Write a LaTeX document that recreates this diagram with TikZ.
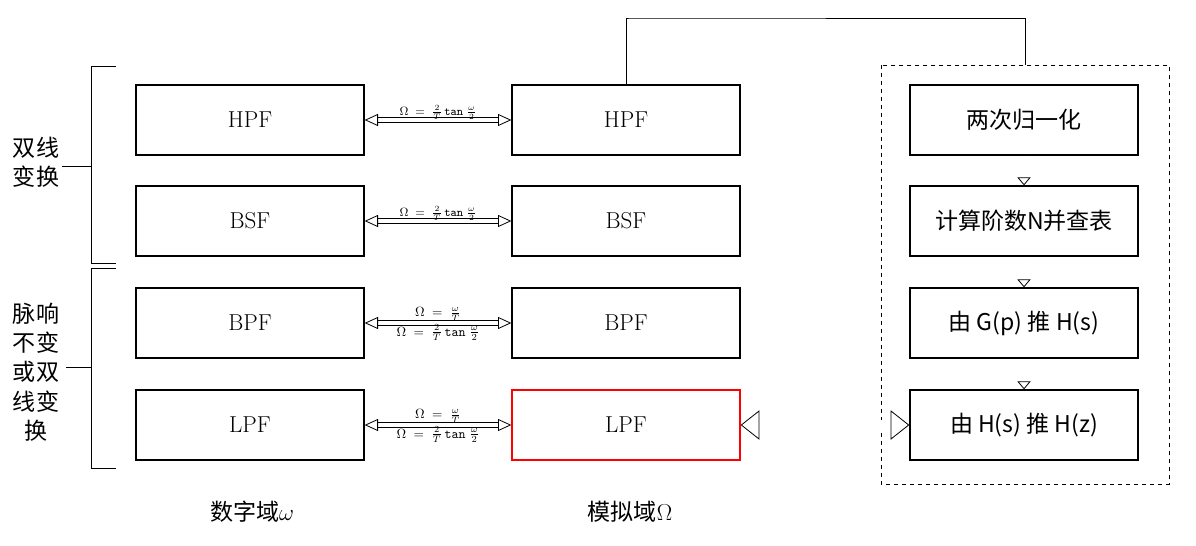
\documentclass[tikz,border=0pt]{standalone}
\usepackage{fontspec}
\newfontfamily\cjk{Noto Sans CJK SC}
\usetikzlibrary{arrows.meta,positioning}
\tikzset{
  blk/.style={draw,line width=1pt,minimum width=171pt,minimum height=52.5pt,inner sep=0pt,font=\LARGE},
  hollow/.style={double,double distance=3pt,line width=0.6pt,{Triangle[open,length=10pt,width=9pt]}-{Triangle[open,length=10pt,width=9pt]}},
  down/.style={double,double distance=4pt,line width=0.6pt,-{Triangle[open,length=6pt,width=10pt]}},
  fml/.style={font=\normalsize,inner sep=1pt}
}
\newcommand{\bilin}{$\Omega\;=\;\frac{2}{T}\,\texttt{tan}\;\frac{\omega}{2}$}
\newcommand{\impl}{$\Omega\;=\;\frac{\omega}{T}$}
\begin{document}
\begin{tikzpicture}[x=0.75pt,y=-0.75pt]
  \useasboundingbox (0,0) rectangle (1196,546);
  % digital column
  \node[blk] (dh) at (250,120) {HPF};
  \node[blk] (ds) at (250,221) {BSF};
  \node[blk] (db) at (250,323) {BPF};
  \node[blk] (dl) at (250,425) {LPF};
  % analog column
  \node[blk] (ah) at (626,120) {HPF};
  \node[blk] (as) at (626,221) {BSF};
  \node[blk] (ab) at (626,323) {BPF};
  \node[blk,draw=red] (al) at (626,425) {LPF};
  % design steps
  \node[blk] (s1) at (1024,120) {\cjk 两次归一化};
  \node[blk] (s2) at (1024,221) {\cjk 计算阶数N并查表};
  \node[blk] (s3) at (1024,323) {\cjk 由 G(p) 推 H(s)};
  \node[blk] (s4) at (1024,425) {\cjk 由 H(s) 推 H(z)};
  \draw[dashed] (881,65) rectangle (1169,484);
  \coordinate (top) at (1025,65);

  \draw[hollow] (dh) -- node[fml,above=-1pt,font=\small] {\bilin} (ah);
  \draw[hollow] (ds) -- node[fml,above=-1pt,font=\small] {\bilin} (as);
  \draw[hollow] (db) -- node[fml,above] {\impl} node[fml,below] {\bilin} (ab);
  \draw[hollow] (dl) -- node[fml,above] {\impl} node[fml,below] {\bilin} (al);
  \draw[double,double distance=7pt,line width=0.6pt,{Triangle[open,length=14pt,width=22pt]}-{Triangle[open,length=14pt,width=22pt]}] (al) -- (s4);
  \draw[down] (s1) -- (s2);
  \draw[down] (s2) -- (s3);
  \draw[down] (s3) -- (s4);
  \draw (ah.north) |- (630,18) -| (top);

  % brackets
  \draw (116,66) -- (91,66) -- (91,263) -- (116,263);
  \draw (91,166) -- (62,166);
  \draw (116,268) -- (91,268) -- (91,468) -- (116,468);
  \draw (91,367) -- (66,367);
  \node[align=center,font=\cjk\LARGE,inner sep=0pt] (g1) at (36,162) {双线\\变换};
  \node[align=center,font=\cjk\LARGE,inner sep=0pt] (g2) at (36,372) {脉响\\不变\\或双\\线变\\换};

  \node[font=\LARGE] (ld) at (252,512) {{\cjk 数字域}$\omega$};
  \node[font=\LARGE] (la) at (630,512) {{\cjk 模拟域}$\Omega$};
\end{tikzpicture}
\end{document}
